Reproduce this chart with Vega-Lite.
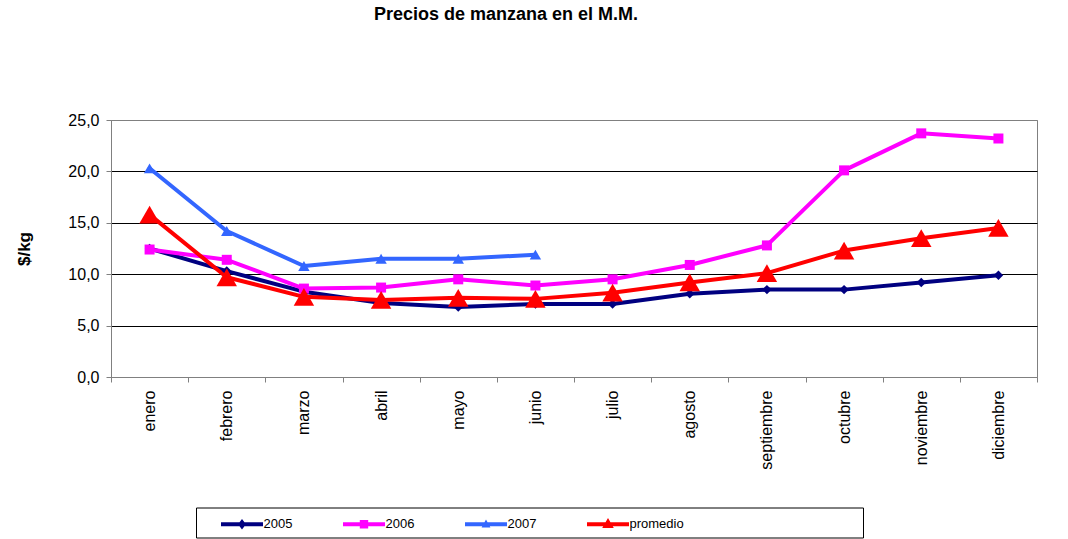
{
  "$schema": "https://vega.github.io/schema/vega-lite/v6.json",
  "width": 926,
  "height": 257,
  "autosize": "none",
  "padding": {"left": 111, "top": 120, "right": 31, "bottom": 162},
  "background": "white",
  "title": {"text": "Precios de manzana en el M.M.", "font": "Liberation Sans", "fontSize": 18, "fontWeight": "bold", "color": "black", "anchor": "middle", "dx": -68, "offset": 88},
  "config": {"view": {"stroke": "#808080", "strokeWidth": 1}, "font": "Liberation Sans"},
  "data": {"values": [
    {"mes": "enero", "serie": "2005", "precio": 12.5},
    {"mes": "febrero", "serie": "2005", "precio": 10.3},
    {"mes": "marzo", "serie": "2005", "precio": 8.3},
    {"mes": "abril", "serie": "2005", "precio": 7.2},
    {"mes": "mayo", "serie": "2005", "precio": 6.8},
    {"mes": "junio", "serie": "2005", "precio": 7.1},
    {"mes": "julio", "serie": "2005", "precio": 7.1},
    {"mes": "agosto", "serie": "2005", "precio": 8.1},
    {"mes": "septiembre", "serie": "2005", "precio": 8.5},
    {"mes": "octubre", "serie": "2005", "precio": 8.5},
    {"mes": "noviembre", "serie": "2005", "precio": 9.2},
    {"mes": "diciembre", "serie": "2005", "precio": 9.9},
    {"mes": "enero", "serie": "2006", "precio": 12.4},
    {"mes": "febrero", "serie": "2006", "precio": 11.4},
    {"mes": "marzo", "serie": "2006", "precio": 8.6},
    {"mes": "abril", "serie": "2006", "precio": 8.7},
    {"mes": "mayo", "serie": "2006", "precio": 9.5},
    {"mes": "junio", "serie": "2006", "precio": 8.9},
    {"mes": "julio", "serie": "2006", "precio": 9.5},
    {"mes": "agosto", "serie": "2006", "precio": 10.9},
    {"mes": "septiembre", "serie": "2006", "precio": 12.8},
    {"mes": "octubre", "serie": "2006", "precio": 20.1},
    {"mes": "noviembre", "serie": "2006", "precio": 23.7},
    {"mes": "diciembre", "serie": "2006", "precio": 23.2},
    {"mes": "enero", "serie": "2007", "precio": 20.3},
    {"mes": "febrero", "serie": "2007", "precio": 14.2},
    {"mes": "marzo", "serie": "2007", "precio": 10.8},
    {"mes": "abril", "serie": "2007", "precio": 11.5},
    {"mes": "mayo", "serie": "2007", "precio": 11.5},
    {"mes": "junio", "serie": "2007", "precio": 11.9},
    {"mes": "enero", "serie": "promedio", "precio": 15.8},
    {"mes": "febrero", "serie": "promedio", "precio": 9.7},
    {"mes": "marzo", "serie": "promedio", "precio": 7.8},
    {"mes": "abril", "serie": "promedio", "precio": 7.5},
    {"mes": "mayo", "serie": "promedio", "precio": 7.7},
    {"mes": "junio", "serie": "promedio", "precio": 7.6},
    {"mes": "julio", "serie": "promedio", "precio": 8.2},
    {"mes": "agosto", "serie": "promedio", "precio": 9.2},
    {"mes": "septiembre", "serie": "promedio", "precio": 10.1},
    {"mes": "octubre", "serie": "promedio", "precio": 12.3},
    {"mes": "noviembre", "serie": "promedio", "precio": 13.5},
    {"mes": "diciembre", "serie": "promedio", "precio": 14.5}
  ]},
  "encoding": {
    "x": {
      "field": "mes", "type": "nominal",
      "sort": ["enero", "febrero", "marzo", "abril", "mayo", "junio", "julio", "agosto", "septiembre", "octubre", "noviembre", "diciembre"],
      "scale": {"type": "band", "paddingInner": 0, "paddingOuter": 0},
      "axis": {"title": null, "labelAngle": -90, "labelAlign": "right", "labelBaseline": "middle", "labelFont": "Liberation Sans", "labelFontSize": 16, "labelColor": "black", "labelPadding": 8, "tickBand": "extent", "tickSize": 5, "tickColor": "#808080", "domainColor": "#808080", "grid": false}
    },
    "y": {
      "field": "precio", "type": "quantitative",
      "scale": {"domain": [0, 25]},
      "axis": {"title": "$/kg", "titleFont": "Liberation Sans", "titleFontSize": 17, "titleFontWeight": "bold", "titleColor": "black", "titlePadding": 34, "values": [0, 5, 10, 15, 20, 25], "labelExpr": "replace(format(datum.value, '.1f'), '.', ',')", "labelFont": "Liberation Sans", "labelFontSize": 16, "labelColor": "black", "labelPadding": 7, "tickSize": 5, "tickColor": "#808080", "domainColor": "#808080", "grid": true, "gridColor": {"condition": {"test": "datum.value == 0 || datum.value == 25", "value": "#808080"}, "value": "#000000"}, "gridOpacity": 1}
    },
    "color": {
      "field": "serie", "type": "nominal",
      "scale": {"domain": ["2005", "2006", "2007", "promedio"], "range": ["#000080", "#FF00FF", "#3366FF", "#FF0000"]},
      "legend": {
        "orient": "none", "legendX": 85, "legendY": 387.5, "direction": "horizontal", "columns": 4,
        "title": "\u00a0", "titleOrient": "right", "titlePadding": 173,
        "strokeColor": "black", "fillColor": "white", "padding": 6,
        "symbolType": "square",
        "symbolSize": 441, "symbolStrokeWidth": 0, "symbolOffset": 29.5, "labelOffset": 11,
        "labelFont": "Liberation Sans", "labelFontSize": 13, "labelColor": "black",
        "columnPadding": 31, "gridAlign": "each",
        "encode": {"symbols": {"update": {
          "shape": {"signal": "datum.value == '2005' ? 'M-2,-0.19L2,-0.19L2,0.19L-2,0.19ZM0,-0.5L0.38,0L0,0.5L-0.38,0Z' : datum.value == '2006' ? 'M-2,-0.19L2,-0.19L2,0.19L-2,0.19ZM-0.4,-0.4L0.4,-0.4L0.4,0.4L-0.4,0.4Z' : datum.value == '2007' ? 'M-2,-0.19L2,-0.19L2,0.19L-2,0.19ZM0,-0.45L0.42,0.3L-0.42,0.3Z' : 'M-2,-0.19L2,-0.19L2,0.19L-2,0.19ZM0,-0.6L0.55,0.35L-0.55,0.35Z'"},
          "fill": {"signal": "datum.value == '2005' ? '#000080' : datum.value == '2006' ? '#FF00FF' : datum.value == '2007' ? '#3366FF' : '#FF0000'"},
          "stroke": {"value": "transparent"},
          "opacity": {"value": 1}
        }}}
      }
    }
  },
  "layer": [
    {
      "mark": {"type": "line", "strokeWidth": 4, "strokeJoin": "round", "strokeCap": "round"}
    },
    {
      "transform": [{"filter": "datum.serie == '2005'"}],
      "mark": {"type": "point", "filled": true, "opacity": 1, "strokeWidth": 0, "shape": "diamond", "size": 90}
    },
    {
      "transform": [{"filter": "datum.serie == '2006'"}],
      "mark": {"type": "point", "filled": true, "opacity": 1, "strokeWidth": 0, "shape": "square", "size": 100}
    },
    {
      "transform": [{"filter": "datum.serie == '2007'"}],
      "mark": {"type": "point", "filled": true, "opacity": 1, "strokeWidth": 0, "shape": "triangle-up", "size": 130}
    },
    {
      "transform": [{"filter": "datum.serie == 'promedio'"}],
      "mark": {"type": "point", "filled": true, "opacity": 1, "strokeWidth": 0, "shape": "triangle-up", "size": 420}
    }
  ]
}
